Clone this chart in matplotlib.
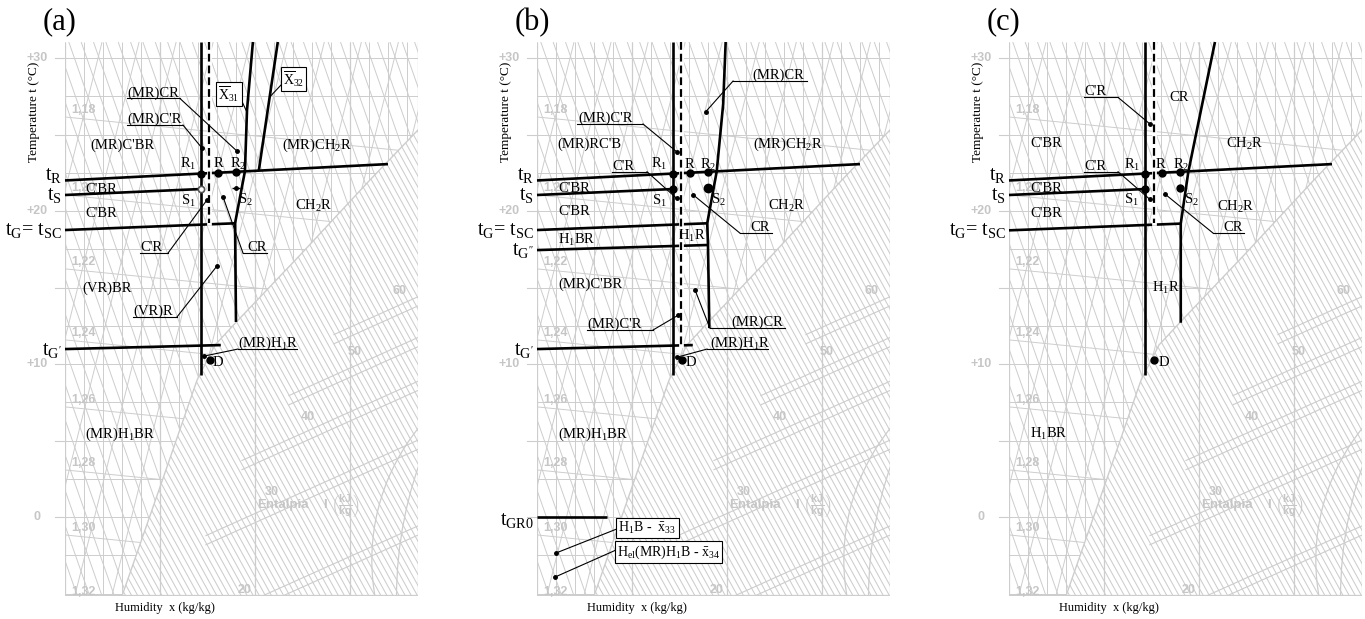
import numpy as np
import matplotlib.pyplot as plt
from matplotlib.collections import LineCollection
from matplotlib.patches import Polygon, Arc

plt.rcParams['font.family'] = ['Liberation Serif', 'DejaVu Serif']
plt.rcParams['mathtext.fontset'] = 'custom'
plt.rcParams['mathtext.rm'] = 'Liberation Serif'
plt.rcParams['mathtext.it'] = 'Liberation Serif:italic'
plt.rcParams['mathtext.sf'] = 'Liberation Sans:bold'

# chart frame: humidity (g/kg) vs temperature (C)
XMAX, TMIN, TMAX = 18.58, -5.16, 31.05

# background Mollier chart
sat_x = [3.0, 5.0, 6.95, 7.89, 9.21, 12.37, 16.05, 18.58]
sat_t = [-5.16, 1.96, 8.95, 11.24, 13.0, 17.12, 22.03, 25.3]
temp_ticks = [30, 20, 10, 0]
temp_labels = ['+30', '+20', '+10', '0']
dens_labels = ['1,18', '1,20', '1,22', '1,24', '1,26', '1,28', '1,30', '1,32']
dens_t = [26.6, 21.5, 16.67, 12.03, 7.65, 3.53, -0.72, -4.9]
enth_labels = ['20', '30', '40', '50', '60']
enth_x = [9.47, 10.89, 12.79, 15.26, 17.63]
enth_t = [-4.77, 1.63, 6.54, 10.78, 14.77]

# process lines shared by the panels
tR_x, tR_t = [0, 17.0], [22.0, 23.07]
tS_x, tS_t = [0, 7.16], [21.05, 21.44]
tGp_x, tGp_t = [0, 8.2], [10.98, 11.24]
tGpp_x, tGpp_t = [0, 8.95], [17.45, 17.78]
tGR0_x, tGR0_t = [0, 3.68], [0, 0]
solid_x, solid_t = [7.16, 7.16], [TMAX, 9.28]

# state points
R1 = (7.16, 22.45)
R0 = (8.07, 22.51)
R2 = (9.0, 22.57)
S1 = (7.16, 21.44)
S2 = (9.0, 21.5)
D = (7.63, 10.24)

# panel (a)
a_dash_x, a_dash_t = [7.58, 7.58], [TMAX, 19.2]
a_x31_x, a_x31_t = [9.89, 9.58, 9.47, 8.95, 9.0], [TMAX, 26.6, 22.6, 19.2, 12.75]
a_x32_x, a_x32_t = [11.2, 10.2], [TMAX, 22.64]
a_tG_x, a_tG_t = [0, 8.95], [18.76, 19.2]
# panel (b)
b_dash_x, b_dash_t = [7.6, 7.6], [TMAX, 11.22]
b_cr_x, b_cr_t = [9.93, 9.8, 9.46, 8.96, 9.0, 9.07], [TMAX, 27.0, 22.6, 19.2, 17.78, 12.35]
b_tG_x, b_tG_t = [0, 8.96], [18.76, 19.2]
# panel (c)
c_dash_x, c_dash_t = [7.63, 7.63], [TMAX, 19.2]
c_cr_x, c_cr_t = [10.84, 9.44, 9.04, 9.04], [TMAX, 22.57, 19.18, 12.7]
c_tG_x, c_tG_t = [0, 9.04], [18.74, 19.18]

GRID = '#cdcdcd'
GTXT = '#c6c6c6'
FS = 10.5


def family(slope, step):
    d = (TMIN - TMAX) / slope
    cs = np.arange(min(0, -d) - step, max(XMAX, XMAX - d) + step, step)
    return [[(c, TMAX), (c + d, TMIN)] for c in cs]


def add_lines(ax, segs, clip=None, lw=0.7):
    lc = LineCollection(segs, colors=GRID, linewidths=lw, zorder=1)
    ax.add_collection(lc)
    if clip is not None:
        lc.set_clip_path(clip)


def background(ax, show_zero=True):
    unsat = [(0, TMIN), (0, TMAX), (XMAX, TMAX)] + list(zip(sat_x[::-1], sat_t[::-1]))
    fog = list(zip(sat_x, sat_t)) + [(XMAX, TMIN)]
    up = Polygon(unsat, closed=True, transform=ax.transData)
    fp = Polygon(fog, closed=True, transform=ax.transData)

    # unsaturated air: lattice
    add_lines(ax, family(-3.55, 0.65), up)
    add_lines(ax, family(4.97, 1.95), up)
    add_lines(ax, [[(x, TMIN), (x, TMAX)] for x in np.arange(1, 18.5, 1.0)], up)
    add_lines(ax, [[(0, t), (XMAX, t)] for t in np.arange(-5, 31, 2.5)], up)
    add_lines(ax, [[(0, t - 0.45), (XMAX, t - 0.45 - 0.124 * XMAX)] for t in dens_t], up)
    # fog region
    add_lines(ax, family(-2.26, 0.32), fp, lw=0.75)
    segs = []
    for ex, et in zip(enth_x, enth_t):
        for off in (-0.9, -1.5):
            x0 = ex - 3.5
            segs.append([(x0, et + off - 0.559 * 3.5), (XMAX, et + off + 0.559 * (XMAX - ex))])
    add_lines(ax, segs, fp, lw=0.8)
    for cen, w, h in [((27.2, -2.81), 22.1, 27.46), ((38.5, -5.23), 42.1, 52.3)]:
        arc = Arc(cen, w, h, color=GRID, lw=0.9, zorder=1)
        ax.add_patch(arc)
        arc.set_clip_path(fp)
    # frame
    add_lines(ax, [[(x, TMIN), (x, TMAX)] for x in [0, 5, 10, 15, XMAX]], lw=0.9)
    add_lines(ax, [[(0, TMIN + 0.05), (XMAX, TMIN + 0.05)]], lw=0.9)
    ax.plot(sat_x, sat_t, color=GRID, lw=1.0, zorder=1)
    for t in range(0, 31, 5):
        ax.plot([-0.53, 0], [t, t], color=GRID, lw=0.8, clip_on=False)

    gkw = dict(color=GTXT, family='Liberation Sans', weight='bold', fontsize=9,
               ha='center', va='center', zorder=2)
    for t, lab in zip(temp_ticks, temp_labels):
        if lab == '0' and not show_zero:
            continue
        ax.text(-1.47, t, lab, clip_on=False, **gkw)
    for t, lab in zip(dens_t, dens_labels):
        ax.text(0.97, t, lab, **gkw)
    for x, t, lab in zip(enth_x, enth_t, enth_labels):
        ax.text(x, t, lab, **gkw)
    gkw['fontsize'] = 9.5
    ax.text(11.47, 0.78, 'Entalpia', **gkw)
    ax.text(13.68, 0.78, 'I', **gkw)
    ax.text(14.74, 0.78, r'$\mathsf{\left(\frac{kJ}{kg}\right)}$', color=GTXT, fontsize=11,
            ha='center', va='center', zorder=2)


def thick(ax, xs, ts):
    ax.plot(xs, ts, color='black', lw=1.9, solid_capstyle='butt', zorder=5, clip_on=False)


def dashed(ax, xs, ts):
    ax.plot(xs, ts, color='white', lw=3.4, zorder=5, clip_on=False)
    ax.plot(xs, ts, color='black', lw=1.6, ls=(0, (3.5, 1.8)), zorder=6, clip_on=False)


def dot(ax, p, ms=5):
    ax.plot(p[0], p[1], 'o', ms=ms, color='black', zorder=7, clip_on=False)


def label(ax, s, x, t, ha='left', fs=FS):
    ax.text(x, t - 0.32, s, fontsize=fs, ha=ha, va='baseline', zorder=8, clip_on=False)


def callout(ax, s, tx, ux0, ux1, ut, side, px, pt):
    ax.text(tx, ut + 0.13, s, fontsize=FS, ha='left', va='baseline', zorder=8, clip_on=False)
    jx = ux0 if side == 'L' else ux1
    ax.plot([ux0, ux1], [ut, ut], color='black', lw=0.8, zorder=6, clip_on=False)
    ax.plot([jx, px], [ut, pt], color='black', lw=0.8, zorder=6, clip_on=False)
    ax.plot(px, pt, 'o', ms=2.5, color='black', zorder=7, clip_on=False)


def boxed(ax, s, x, t, ha='center', fs=10):
    ax.text(x, t, s, fontsize=fs, ha=ha, va='center', zorder=9, clip_on=False,
            bbox=dict(boxstyle='square,pad=0.15', fc='white', ec='black', lw=0.8))


def frame_texts(ax, name, tlabels):
    ax.text(-1.16, 32.35, name, fontsize=22, ha='left', va='center', clip_on=False)
    ax.text(-1.63, 26.47, 'Temperature t (°C)', fontsize=9.5, rotation=90,
            ha='center', va='center', clip_on=False)
    ax.text(2.63, -5.95, 'Humidity  x (kg/kg)', fontsize=9, ha='left', va='center',
            clip_on=False)
    for s, t in tlabels:
        ax.text(-0.15, t, s, fontsize=14.5, ha='right', va='baseline', clip_on=False)


fig = plt.figure(figsize=(13.65, 6.19), dpi=100)
axes = []
for i, left in enumerate([65, 537, 1009]):
    ax = fig.add_axes([left / 1365, 23 / 619, 353 / 1365, 554 / 619])
    ax.set_xlim(0, XMAX)
    ax.set_ylim(TMIN, TMAX)
    ax.set_axis_off()
    background(ax, show_zero=(i != 1))
    axes.append(ax)

tR_s, tS_s = r't$_\mathrm{R}$', r't$_\mathrm{S}$'
tG_s = r't$_\mathrm{G}$= t$_\mathrm{SC}$'
tGp_s, tGpp_s = r"t$_\mathrm{G'}$", r"t$_\mathrm{G''}$"

# ---------------- (a)
ax = axes[0]
frame_texts(ax, '(a)', [(tR_s, 22.03), (tS_s, 20.72), (tG_s, 18.43), (tGp_s, 10.59)])
for xs, ts in [(tR_x, tR_t), (tS_x, tS_t), (a_tG_x, a_tG_t), (tGp_x, tGp_t),
               (solid_x, solid_t), (a_x31_x, a_x31_t), (a_x32_x, a_x32_t)]:
    thick(ax, xs, ts)
dashed(ax, a_dash_x, a_dash_t)
for p in (R1, R0, R2, D):
    dot(ax, p)
ax.plot(*S1, 'o', ms=4.5, mfc='white', mec='#555555', mew=1.2, zorder=7)
ax.plot(*S2, '_', ms=6, color='black', mew=1.0, zorder=7)
dot(ax, S2, ms=2.5)
callout(ax, '(MR)CR', 3.26, 3.26, 6.05, 27.36, 'R', 9.05, 23.92)
callout(ax, "(MR)C'R", 3.26, 3.26, 6.21, 25.62, 'R', 7.21, 24.12)
callout(ax, "C'R", 3.95, 3.95, 5.42, 17.25, 'R', 7.47, 20.72)
callout(ax, 'CR', 9.58, 9.37, 10.63, 17.25, 'L', 8.32, 20.92)
callout(ax, '(VR)R', 3.58, 3.58, 5.89, 13.07, 'R', 8.0, 16.41)
callout(ax, r'(MR)H$_\mathrm{1}$R', 9.1, 9.1, 12.21, 10.98, 'L', 7.32, 10.52)
for s, x, t in [("(MR)C'BR", 1.32, 24.38), (r'(MR)CH$_\mathrm{2}$R', 11.42, 24.38),
                ("C'BR", 1.05, 21.5), ("C'BR", 1.05, 19.93), (r'CH$_\mathrm{2}$R', 12.1, 20.39),
                ('(VR)BR', 0.89, 15.03), (r'(MR)H$_\mathrm{1}$BR', 1.05, 5.49), ('D', 7.79, 10.2)]:
    label(ax, s, x, t)
for s, x, t in [(r'R$_\mathrm{1}$', 6.47, 23.14), ('R', 8.05, 23.2), (r'R$_\mathrm{2}$', 9.1, 23.14),
                (r'S$_\mathrm{1}$', 6.47, 20.72), (r'S$_\mathrm{2}$', 9.47, 20.78)]:
    label(ax, s, x, t, ha='center')
boxed(ax, r'$\overline{\mathrm{X}}_{\mathrm{31}}$', 8.63, 27.65)
ax.plot([9.21, 9.6], [27.45, 26.4], color='black', lw=0.8, zorder=6)
boxed(ax, r'$\overline{\mathrm{X}}_{\mathrm{32}}$', 12.03, 28.63)
ax.plot([11.47, 10.77], [28.37, 27.45], color='black', lw=0.8, zorder=6)

# ---------------- (b)
ax = axes[1]
frame_texts(ax, '(b)', [(tR_s, 22.03), (tS_s, 20.72), (tG_s, 18.43), (tGpp_s, 17.12),
                        (tGp_s, 10.59), (r't$_\mathrm{GR0}$', -0.52)])
for xs, ts in [(tR_x, tR_t), (tS_x, tS_t), (b_tG_x, b_tG_t), (tGpp_x, tGpp_t), (tGp_x, tGp_t),
               (tGR0_x, tGR0_t), (solid_x, solid_t), (b_cr_x, b_cr_t)]:
    thick(ax, xs, ts)
dashed(ax, b_dash_x, b_dash_t)
for p in (R1, R0, R2, S1, D):
    dot(ax, p)
dot(ax, S2, ms=6)
callout(ax, '(MR)CR', 11.35, 10.32, 14.21, 28.5, 'L', 8.88, 26.49)
callout(ax, "(MR)C'R", 2.16, 2.1, 5.58, 25.69, 'R', 7.35, 23.88)
callout(ax, "C'R", 3.95, 3.95, 5.79, 22.57, 'R', 7.35, 20.83)
callout(ax, 'CR', 11.21, 10.68, 12.37, 18.56, 'L', 8.23, 21.05)
callout(ax, "(MR)C'R", 2.63, 2.63, 6.1, 12.22, 'R', 7.44, 13.2)
callout(ax, '(MR)CR', 10.21, 9.1, 13.05, 12.35, 'L', 8.32, 14.84)
callout(ax, r'(MR)H$_\mathrm{1}$R', 9.1, 8.95, 12.16, 10.98, 'L', 7.35, 10.44)
for s, x, t in [("(MR)RC'B", 1.05, 24.44), (r'(MR)CH$_\mathrm{2}$R', 11.37, 24.44),
                ("C'BR", 1.1, 21.57), ("C'BR", 1.1, 20.07), (r'CH$_\mathrm{2}$R', 12.16, 20.39),
                (r'H$_\mathrm{1}$BR', 1.1, 18.17), (r'H$_\mathrm{1}$R', 7.42, 18.43),
                ("(MR)C'BR", 1.1, 15.29), (r'(MR)H$_\mathrm{1}$BR', 1.1, 5.49), ('D', 7.82, 10.2)]:
    label(ax, s, x, t)
for s, x, t in [(r'R$_\mathrm{1}$', 6.42, 23.14), ('R', 8.0, 23.14), (r'R$_\mathrm{2}$', 9.0, 23.07),
                (r'S$_\mathrm{1}$', 6.42, 20.72), (r'S$_\mathrm{2}$', 9.53, 20.78)]:
    label(ax, s, x, t, ha='center')
boxed(ax, r'H$_\mathrm{1}$B -  $\bar{\mathrm{x}}_{\mathrm{33}}$ ', 4.26, -0.72, ha='left')
ax.plot([4.2, 1.0], [-0.78, -2.35], color='black', lw=0.8, zorder=6)
dot(ax, (1.0, -2.35), ms=2.5)
boxed(ax, r'H$_\mathrm{el}$(MR)H$_\mathrm{1}$B - $\bar{\mathrm{x}}_{\mathrm{34}}$', 4.21, -2.29, ha='left')
ax.plot([4.15, 0.95], [-2.16, -3.92], color='black', lw=0.8, zorder=6)
dot(ax, (0.95, -3.92), ms=2.5)

# ---------------- (c)
ax = axes[2]
frame_texts(ax, '(c)', [(tR_s, 22.03), (tS_s, 20.72), (tG_s, 18.43)])
for xs, ts in [(tR_x, tR_t), (tS_x, tS_t), (c_tG_x, c_tG_t), (solid_x, solid_t), (c_cr_x, c_cr_t)]:
    thick(ax, xs, ts)
dashed(ax, c_dash_x, c_dash_t)
for p in (R1, R0, R2, S1, S2, D):
    dot(ax, p)
callout(ax, "C'R", 3.95, 3.95, 5.74, 27.43, 'R', 7.42, 25.69)
callout(ax, "C'R", 3.95, 3.95, 5.74, 22.57, 'R', 7.42, 20.76)
callout(ax, 'CR', 11.26, 10.74, 12.37, 18.56, 'L', 8.21, 21.11)
for s, x, t in [('CR', 8.42, 27.52), ("C'BR", 1.1, 24.5), (r'CH$_\mathrm{2}$R', 11.42, 24.44),
                ("C'BR", 1.1, 21.57), ("C'BR", 1.1, 19.93), (r'CH$_\mathrm{2}$R', 10.95, 20.33),
                (r'H$_\mathrm{1}$R', 7.53, 15.03), (r'H$_\mathrm{1}$BR', 1.1, 5.49), ('D', 7.9, 10.2)]:
    label(ax, s, x, t)
for s, x, t in [(r'R$_\mathrm{1}$', 6.46, 23.1), ('R', 7.95, 23.14), (r'R$_\mathrm{2}$', 9.04, 23.07),
                (r'S$_\mathrm{1}$', 6.46, 20.76), (r'S$_\mathrm{2}$', 9.62, 20.76)]:
    label(ax, s, x, t, ha='center')

fig.savefig('out.png', dpi=100)
